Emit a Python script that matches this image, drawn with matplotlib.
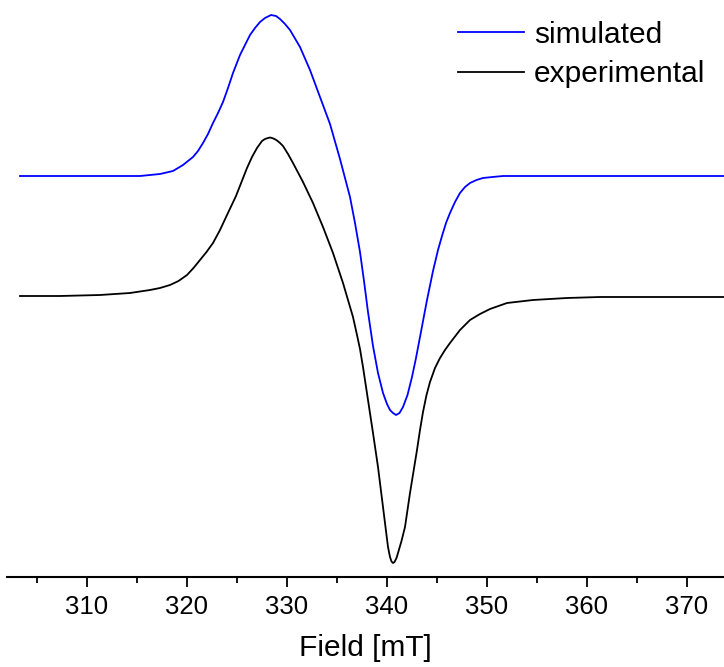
import matplotlib
matplotlib.use("Agg")
import matplotlib.pyplot as plt
from matplotlib.ticker import MultipleLocator

plt.rcParams["font.family"] = ["Liberation Sans", "DejaVu Sans"]

# field values (mT) and intensities (a.u.)
sim_field = [303.35, 311.35, 315.35, 316.35, 317.35, 318.0, 318.65, 319.15,
             319.65, 320.15, 320.65, 321.15, 321.65, 322.15, 322.65, 323.15,
             323.65, 324.15, 324.65, 325.35, 325.85, 326.35, 326.85, 327.35,
             327.85, 328.45, 328.95, 329.35, 329.85, 330.35, 331.35, 332.35,
             333.35, 334.35, 335.35, 336.35, 336.85, 337.35, 337.75, 338.15,
             338.65, 339.15, 339.65, 340.05, 340.35, 340.65, 340.95, 341.3,
             341.65, 342.1, 342.55, 342.95, 343.35, 344.05, 344.65, 345.15,
             345.55, 345.95, 346.35, 346.85, 347.35, 347.85, 348.35, 349.0,
             349.65, 350.6, 351.65, 355.35, 373.7]
sim_int = [0.0, 0.0, 0.0, 0.01, 0.02, 0.035, 0.05, 0.08,
           0.11, 0.15, 0.19, 0.25, 0.33, 0.42, 0.53, 0.63,
           0.74, 0.88, 1.03, 1.21, 1.31, 1.41, 1.48, 1.54,
           1.58, 1.61, 1.60, 1.57, 1.52, 1.46, 1.29, 1.06,
           0.79, 0.52, 0.17, -0.21, -0.47, -0.76, -1.05, -1.36,
           -1.70, -1.97, -2.17, -2.28, -2.34, -2.37, -2.39, -2.37,
           -2.31, -2.19, -2.01, -1.82, -1.61, -1.24, -0.95, -0.74,
           -0.60, -0.47, -0.37, -0.26, -0.17, -0.11, -0.07, -0.04,
           -0.02, -0.01, 0.0, 0.0, 0.0]

exp_field = [303.35, 307.35, 311.35, 314.35, 316.35, 317.35, 318.35, 319.2,
             320.05, 320.7, 321.35, 322.0, 322.65, 323.35, 324.05, 324.95,
             325.5, 326.05, 326.55, 327.05, 327.55, 327.85, 328.15, 328.35,
             328.55, 328.8, 329.05, 329.35, 329.65, 330.15, 330.65, 331.65,
             332.65, 333.65, 334.65, 335.65, 336.15, 336.65, 337.05, 337.35,
             337.65, 338.15, 338.65, 339.15, 339.65, 339.9, 340.15, 340.35,
             340.5, 340.65, 340.8, 341.0, 341.15, 341.5, 341.85, 342.35,
             343.05, 343.35, 343.65, 344.0, 344.35, 344.85, 345.35, 345.85,
             346.35, 347.35, 348.35, 349.35, 350.35, 351.2, 352.05, 354.65,
             358.05, 361.35, 373.7]
exp_int = [0.0, 0.0, 0.01, 0.03, 0.06, 0.08, 0.11, 0.15,
           0.21, 0.28, 0.36, 0.44, 0.53, 0.66, 0.81, 1.00,
           1.14, 1.28, 1.39, 1.48, 1.55, 1.57, 1.58, 1.585,
           1.58, 1.57, 1.555, 1.53, 1.50, 1.42, 1.33, 1.14,
           0.93, 0.69, 0.43, 0.13, -0.04, -0.21, -0.39, -0.53,
           -0.71, -1.04, -1.37, -1.71, -2.11, -2.31, -2.51, -2.61,
           -2.655, -2.67, -2.66, -2.62, -2.57, -2.45, -2.31, -1.97,
           -1.54, -1.34, -1.16, -0.99, -0.86, -0.72, -0.62, -0.54,
           -0.47, -0.34, -0.24, -0.18, -0.13, -0.10, -0.07, -0.04,
           -0.02, -0.01, -0.01]

sim_offset = 1.2

fig = plt.figure(figsize=(7.24, 6.67), dpi=100)
ax = fig.add_axes([7 / 724, 90 / 667, 717 / 724, 577 / 667])

ax.plot(sim_field, [v + sim_offset for v in sim_int], color="#0000ff",
        lw=1.3, label="simulated")
ax.plot(exp_field, exp_int, color="black", lw=1.3, label="experimental")

ax.set_xlim(302.05, 373.75)
ax.set_ylim(-2.81, 2.96)

for side in ["left", "right", "top"]:
    ax.spines[side].set_visible(False)
ax.spines["bottom"].set_linewidth(1.5)
ax.set_yticks([])

ax.xaxis.set_major_locator(MultipleLocator(10))
ax.xaxis.set_minor_locator(MultipleLocator(5))
ax.tick_params(axis="x", which="major", direction="out", length=7, width=1.3,
               labelsize=18.5, pad=6)
ax.tick_params(axis="x", which="minor", direction="out", length=4.5, width=1.3)
ax.set_xlabel("Field [mT]", fontsize=21.5, labelpad=11)

ax.legend(loc="upper right", bbox_to_anchor=(0.995, 0.99), frameon=False,
          fontsize=21.5, handlelength=2.2, handletextpad=0.35,
          labelspacing=0.38, borderaxespad=0.1)

fig.savefig("out.png", dpi=100)
